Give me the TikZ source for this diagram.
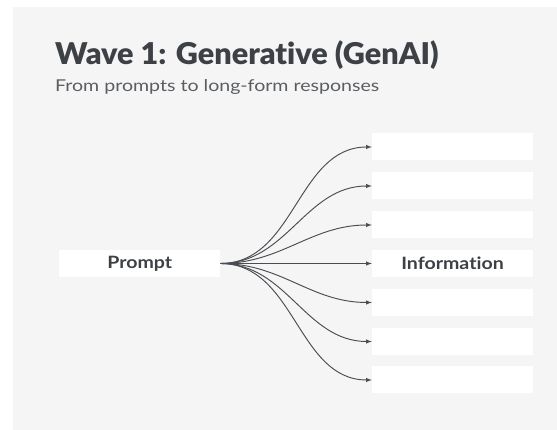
\documentclass[tikz,border=0pt]{standalone}
\usepackage{fontspec}
\setmainfont{Lato}[Ligatures=NoCommon]
\newfontfamily\heavyfont{Lato Black}[Ligatures=NoCommon, FakeStretch=1.02]
\newfontfamily\widefont{Lato}[Ligatures=NoCommon, FakeStretch=1.2]
\newfontfamily\slotfont{Lato}[Ligatures=NoCommon, FakeStretch=1.15]
\usepackage{tikz}
\usetikzlibrary{arrows}
\usetikzlibrary{positioning}
\definecolor{bggray}{HTML}{F5F5F5}
\definecolor{titlegray}{HTML}{3D4045}
\definecolor{subgray}{HTML}{5A5D62}
\definecolor{linegray}{HTML}{4A4D52}
\tikzstyle{slot}=[rectangle, fill=white, minimum width=161pt, minimum height=27pt, inner sep=0pt, text=titlegray, font=\slotfont\bfseries\fontsize{17}{17}\selectfont]
\tikzstyle{flow}=[->, draw=linegray, line width=0.95pt]
\tikzset{>=latex}

\begin{document}
\begin{tikzpicture}[x=1pt, y=1pt]
      \useasboundingbox (0, 0) rectangle (557, 430);
      \fill[fill=bggray] (12.5, 0) rectangle (557, 423);

      \draw node at (55, 365) [anchor=base west, text=titlegray, inner sep=0pt] (title) {\heavyfont\fontsize{30}{30}\selectfont Wave 1: Generative (GenAI)};
      \draw node at (55, 338.3) [anchor=base west, text=subgray, inner sep=0pt] (subtitle) {\widefont\fontsize{16.3}{16.3}\selectfont From prompts to long-form responses};

      \draw node at (139.8, 166.5) [slot] (prompt) {Prompt};

      \draw node at (452.5, 283) [slot] (info1) {};
      \draw node at (452.5, 244) [slot] (info2) {};
      \draw node at (452.5, 205) [slot] (info3) {};
      \draw node at (452.5, 166.5) [slot] (info4) {Information};
      \draw node at (452.5, 127.5) [slot] (info5) {};
      \draw node at (452.5, 88.5) [slot] (info6) {};
      \draw node at (452.5, 50) [slot] (info7) {};

      \draw [flow] (prompt.east) to [out=0, in=180] (info1.west);
      \draw [flow] (prompt.east) to [out=0, in=180] (info2.west);
      \draw [flow] (prompt.east) to [out=0, in=180] (info3.west);
      \draw [flow] (prompt.east) to (info4.west);
      \draw [flow] (prompt.east) to [out=0, in=180] (info5.west);
      \draw [flow] (prompt.east) to [out=0, in=180] (info6.west);
      \draw [flow] (prompt.east) to [out=0, in=180] (info7.west);
    \end{tikzpicture}
\end{document}
